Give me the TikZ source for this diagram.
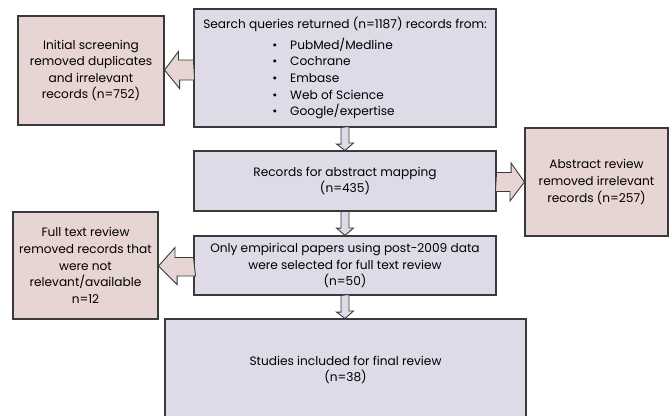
\documentclass[tikz,border=0pt]{standalone}
\usepackage{fontspec}
\setmainfont{Poppins}
\usetikzlibrary{calc}
\definecolor{lavender}{HTML}{DEDAE8}
\definecolor{rosy}{HTML}{E6D5D3}
\definecolor{edge}{HTML}{3A3A3A}

\begin{document}
\begin{tikzpicture}[x=1bp, y=-1bp,
  box/.style={draw=edge, line width=1.1bp, inner sep=0pt, align=center,
    font=\fontsize{12.2}{16.7}\selectfont},
  mainbox/.style={box, fill=lavender},
  sidebox/.style={box, fill=rosy},
  fatarrow/.style={draw=edge, line width=0.9bp, fill=rosy, line join=miter},
  downarrow/.style={draw=edge, line width=0.9bp, fill=lavender, line join=miter}]
  \useasboundingbox (0,0) rectangle (669,415);

  % Main column
  \node[mainbox, minimum width=302bp, minimum height=118bp, align=left] (search) at (345,68)
    {Search queries returned (n=1187) records from:\\[4.3bp]
     \hspace*{69bp}\makebox[18bp][l]{\textbullet}PubMed/Medline\\
     \hspace*{69bp}\makebox[18bp][l]{\textbullet}Cochrane\\
     \hspace*{69bp}\makebox[18bp][l]{\textbullet}Embase\\
     \hspace*{69bp}\makebox[18bp][l]{\textbullet}Web of Science\\
     \hspace*{69bp}\makebox[18bp][l]{\textbullet}Google/expertise};
  \node[mainbox, minimum width=302bp, minimum height=60bp] (mapping) at (345,181)
    {Records for abstract mapping\\(n=435)};
  \node[mainbox, minimum width=302bp, minimum height=59bp] (empirical) at (345,265.5)
    {Only empirical papers using post-2009 data\\were selected for full text review\\(n=50)};
  \node[mainbox, minimum width=361bp, minimum height=102bp] (included) at (345.5,370)
    {Studies included for final review\\(n=38)};

  % Side boxes
  \node[sidebox, minimum width=146bp, minimum height=109bp] (screen) at (91,70.5)
    {Initial screening\\removed duplicates\\and irrelevant\\records (n=752)};
  \node[sidebox, minimum width=143bp, minimum height=108bp] (abstract) at (596.5,182)
    {Abstract review\\removed irrelevant\\records (n=257)};
  \node[sidebox, minimum width=145bp, minimum height=107bp] (fulltext) at (85.5,265.5)
    {Full text review\\removed records that\\were not\\relevant/available\\n=12};

  % Side arrows
  \coordinate (a1) at (search.west |- 0,70);
  \draw[fatarrow] (a1) ++(0,-10) -- ++(-15,0) -- ++(0,-8.5) -- (screen.east |- a1)
    -- ++(15,18.5) -- ++(0,-8.5) -- ++(15,0) -- cycle;
  \coordinate (a2) at (mapping.east |- 0,182);
  \draw[fatarrow] (a2) ++(0,-9.5) -- ++(14.5,0) -- ++(0,-9.5) -- (abstract.west |- a2)
    -- ++(-14.5,19) -- ++(0,-9.5) -- ++(-14.5,0) -- cycle;
  \coordinate (a3) at (empirical.west |- 0,266);
  \draw[fatarrow] (a3) ++(0,-8.5) -- ++(-18.5,0) -- ++(0,-10) -- (fulltext.east |- a3)
    -- ++(18.5,18.5) -- ++(0,-8.5) -- ++(18.5,0) -- cycle;

  % Down arrows
  \foreach \from/\to in {search/mapping, mapping/empirical, empirical/included}{
    \draw[downarrow] (\from.south) ++(-4,0) -- ++(0,16.5) -- ++(-4.5,0) -- (\to.north -| \from.south)
      -- ++(8.5,-7.5) -- ++(-4.5,0) -- ++(0,-16.5) -- cycle;
  }
\end{tikzpicture}
\end{document}
